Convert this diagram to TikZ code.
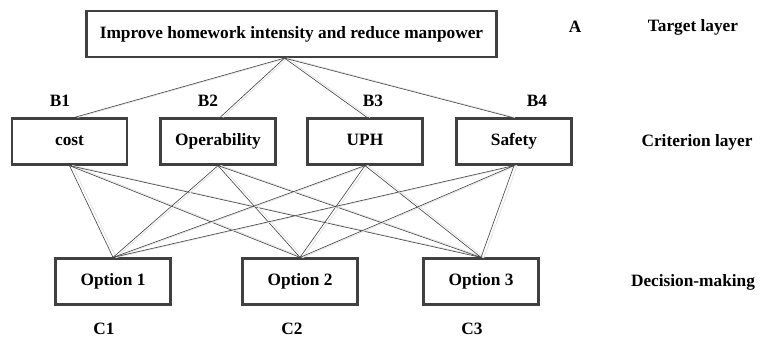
\documentclass[tikz,border=0pt]{standalone}
\usepackage{fontspec}
\setmainfont{Liberation Serif}
\usetikzlibrary{positioning}

\begin{document}
\begin{tikzpicture}[x=1pt,y=-1pt]
  \tikzset{
    box/.style={draw=black!75, line width=2.2pt, minimum height=46pt, inner sep=0pt,
      text height=11.5pt, text depth=3.5pt,
      font=\bfseries\fontsize{17.3}{19}\selectfont},
    crit/.style={box, minimum width=115pt},
    label/.style={draw=none, font=\bfseries\fontsize{17.3}{19}\selectfont},
    link/.style={draw=black!75, line width=0.6pt,
      preaction={draw=black!10, line width=0.9pt, transform canvas={xshift=3pt}}},
  }
  \useasboundingbox (0,0) rectangle (761,343);

  \node[box, minimum width=410pt] (goal) at (291.5,34) {Improve homework intensity and reduce manpower};

  \node[crit] (cost) at (69.5,141.5) {cost};
  \node[crit] (oper) at (218,141.5) {Operability};
  \node[crit] (uph) at (365,141.5) {UPH};
  \node[crit] (safe) at (514,141.5) {Safety};

  \node[crit] (opt1) at (113,281.5) {Option 1};
  \node[crit] (opt2) at (300,281.5) {Option 2};
  \node[crit] (opt3) at (481,281.5) {Option 3};

  \node[label] (A) at (575,27) {A};
  \node[label] (B1) at (60,101) {B1};
  \node[label] (B2) at (208,101) {B2};
  \node[label] (B3) at (373,101) {B3};
  \node[label] (B4) at (537,101) {B4};
  \node[label] (C1) at (104,329) {C1};
  \node[label] (C2) at (292,329) {C2};
  \node[label] (C3) at (472,329) {C3};

  \node[label] (target) at (693,27) {Target layer};
  \node[label] (criterion) at (697,142) {Criterion layer};
  \node[label] (decision) at (693,282) {Decision-making};

  \coordinate (top) at ([xshift=-7pt]goal.south);
  \draw[link] (top) -- ([xshift=5pt]cost.north);
  \draw[link] (top) -- ([xshift=2pt]oper.north);
  \draw[link] (top) -- ([xshift=2pt]uph.north);
  \draw[link] (top) -- ([xshift=-2pt]safe.north);

  \draw[link] (cost.south) -- (opt1.north);
  \draw[link] (cost.south) -- (opt2.north);
  \draw[link] (cost.south) -- (opt3.north);
  \draw[link] (oper.south) -- (opt1.north);
  \draw[link] (oper.south) -- (opt2.north);
  \draw[link] (oper.south) -- (opt3.north);
  \draw[link] (uph.south) -- (opt1.north);
  \draw[link] (uph.south) -- (opt2.north);
  \draw[link] (uph.south) -- (opt3.north);
  \draw[link] (safe.south) -- (opt1.north);
  \draw[link] (safe.south) -- (opt2.north);
  \draw[link] (safe.south) -- (opt3.north);

\end{tikzpicture}
\end{document}
